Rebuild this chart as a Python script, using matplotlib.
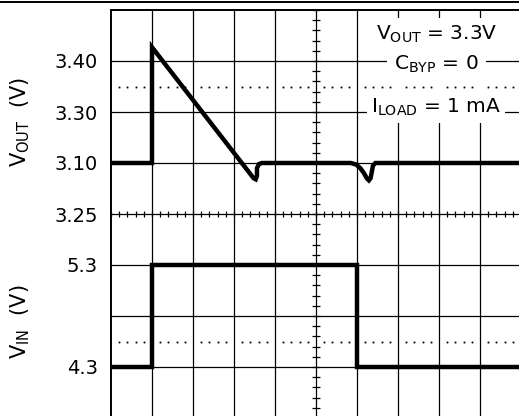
import numpy as np
import matplotlib.pyplot as plt
from matplotlib.lines import Line2D
from matplotlib.patches import Rectangle

plt.rcParams['font.family'] = 'DejaVu Sans'
plt.rcParams['mathtext.default'] = 'regular'

# scope screen: 10 horizontal x 8 vertical divisions
# traces are given in screen divisions
t_vout = [0.0, 1.0, 1.0, 3.48, 3.53, 3.56, 3.56, 3.61, 3.68,
          5.85, 5.98, 6.08, 6.17, 6.24, 6.29, 6.33, 6.36, 6.39, 6.45, 10.0]
vout = [5.0, 5.0, 7.27, 4.70, 4.68, 4.75, 4.90, 4.98, 5.0,
        5.0, 4.97, 4.90, 4.80, 4.70, 4.66, 4.70, 4.82, 4.95, 5.0, 5.0]

t_vin = [0.0, 1.0, 1.0, 6.0, 6.0, 10.0]
vin = [1.0, 1.0, 3.0, 3.0, 1.0, 1.0]

tick_pos = [7, 6, 5, 4, 3, 1]
tick_labels = ['3.40', '3.30', '3.10', '3.25', '5.3', '4.3']

fig = plt.figure(figsize=(5.19, 4.16), dpi=100)
ax = fig.add_axes([111 / 519, 1 - 418 / 416, 410 / 519, 408 / 416])
ax.set_xlim(0, 10)
ax.set_ylim(0, 8)

# graticule
ax.vlines(np.arange(1, 10), 0, 8, color='k', lw=0.9, zorder=1)
ax.hlines(np.arange(1, 8), 0, 10, color='k', lw=0.9, zorder=1)

# centre axes with minor ticks
mx = np.arange(0, 10.01, 0.2)
my = np.arange(0, 8.01, 0.2)
ax.vlines(mx, 4 - 0.065, 4 + 0.065, color='k', lw=0.9, zorder=2)
ax.hlines(my, 5 - 0.1, 5 + 0.1, color='k', lw=0.9, zorder=2)

# blank area behind the annotation
ax.add_patch(Rectangle((6.8, 5.88), 2.35, 1.96, facecolor='white',
                       edgecolor='none', zorder=3))

# dotted reference levels
dx = [v for v in np.arange(0.2, 10, 0.2) if abs(v - round(v)) > 0.05]
for lvl in (6.5, 1.5):
    ax.plot(dx, [lvl] * len(dx), ls='none', marker='s', ms=1.3,
            mec='none', color='k', zorder=4)

# traces
ax.plot(t_vout, vout, color='k', lw=3.2, solid_joinstyle='miter', zorder=6)
ax.plot(t_vin, vin, color='k', lw=3.2, solid_joinstyle='miter', zorder=6)

ax.text(7.93, 7.41, r'V$_{OUT}$ = 3.3V', ha='center', va='baseline',
        fontsize=14.5, zorder=5)
ax.text(7.93, 6.82, r'C$_{BYP}$ = 0', ha='center', va='baseline',
        fontsize=14.5, zorder=5,
        bbox=dict(facecolor='white', edgecolor='none', pad=5))
ax.text(7.93, 5.98, r'I$_{LOAD}$ = 1 mA', ha='center', va='baseline',
        fontsize=14.5, zorder=5,
        bbox=dict(facecolor='white', edgecolor='none', pad=3))

ax.set_xticks([])
ax.set_yticks(tick_pos)
ax.set_yticklabels(tick_labels)
ax.tick_params(axis='y', length=0, pad=9.5, labelsize=14)

for s in ('right', 'bottom'):
    ax.spines[s].set_visible(False)
for s in ('left', 'top'):
    ax.spines[s].set_linewidth(1.4)

fig.text(20 / 519, 1 - 122 / 416, r'V$_{OUT}$  (V)', rotation=90,
         ha='center', va='center', fontsize=15)
fig.text(20 / 519, 1 - 322 / 416, r'V$_{IN}$  (V)', rotation=90,
         ha='center', va='center', fontsize=15)

fig.add_artist(Line2D([0, 1], [1 - 1.5 / 416] * 2, transform=fig.transFigure,
                      color='k', lw=1.4))

fig.savefig('out.png', dpi=100)
